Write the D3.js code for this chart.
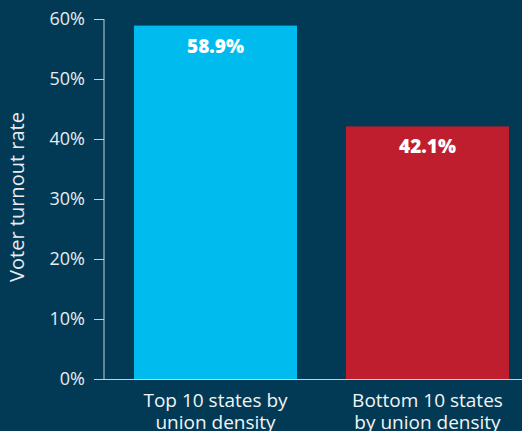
<!DOCTYPE html>
<html>
<head>
<meta charset="utf-8">
<script src="https://cdn.jsdelivr.net/npm/d3@7"></script>
<style>
  html, body { margin: 0; padding: 0; background: #023a55; }
  svg { display: block; font-family: "Open Sans", "Noto Sans", sans-serif; }
</style>
</head>
<body>
<div class="mainviz"></div>
<script>
var categories = [["Top 10 states by", "union density"], ["Bottom 10 states", "by union density"]];
var values = [58.9, 42.1];
var labels = ["58.9%", "42.1%"];
var barColors = ["#00bbee", "#be1e2e"];
var yTicks = [0, 10, 20, 30, 40, 50, 60];

var width = 522, height = 431;
var margin = { top: 19, left: 104, bottom: 52 };
var plotH = height - margin.top - margin.bottom;

var svg = d3.select(".mainviz").append("svg")
	.attr("width", width)
	.attr("height", height);

svg.append("rect").attr("width", width).attr("height", height).attr("fill", "#023a55");

var chartGroup = svg.append("g")
	.attr("transform", "translate(" + margin.left + "," + margin.top + ")");

var y = d3.scaleLinear().domain([0, 60]).range([plotH, 0]);

var x = d3.scaleBand()
	.domain([0, 1])
	.range([0, 435])
	.paddingInner(0.231)
	.paddingOuter(0.1415);

chartGroup.selectAll("rect.bar")
	.data(values)
	.enter().append("rect")
	.attr("class", "bar")
	.attr("x", function(d, i){ return x(i); })
	.attr("y", function(d){ return y(d); })
	.attr("width", x.bandwidth())
	.attr("height", function(d){ return plotH - y(d); })
	.attr("fill", function(d, i){ return barColors[i]; });

chartGroup.selectAll("text.val")
	.data(values)
	.enter().append("text")
	.attr("class", "val")
	.attr("x", function(d, i){ return x(i) + x.bandwidth() / 2; })
	.attr("y", function(d){ return y(d) + 27; })
	.attr("text-anchor", "middle")
	.attr("fill", "#fff")
	.attr("font-weight", "800")
	.attr("font-size", "19px")
	.text(function(d, i){ return labels[i]; });

var yAxis = d3.axisLeft(y)
	.tickValues(yTicks)
	.tickFormat(function(d){ return d + "%"; })
	.tickSize(10)
	.tickPadding(9);

var yg = chartGroup.append("g").call(yAxis);
yg.select(".domain").attr("stroke", "#c8cfd4").attr("d", "M0," + y(60) + "V" + plotH);
yg.selectAll(".tick line").attr("stroke", "#c8cfd4");
yg.selectAll(".tick text").attr("fill", "#e8ecef").attr("font-size", "18px")
	.attr("font-family", "\"Open Sans\", \"Noto Sans\", sans-serif");

// baseline across the full width
chartGroup.append("line")
	.attr("x1", 0).attr("x2", width - margin.left)
	.attr("y1", plotH + 0.5).attr("y2", plotH + 0.5)
	.attr("stroke", "#c8cfd4");

// category labels
chartGroup.selectAll("text.cat")
	.data(categories)
	.enter().append("text")
	.attr("class", "cat")
	.attr("x", function(d, i){ return x(i) + x.bandwidth() / 2; })
	.attr("y", plotH + 28)
	.attr("text-anchor", "middle")
	.attr("fill", "#f2f4f5")
	.attr("font-size", "19px")
	.each(function(d){
		var t = d3.select(this);
		d.forEach(function(line, j){
			t.append("tspan")
				.attr("x", t.attr("x"))
				.attr("dy", j === 0 ? 0 : 22)
				.text(line);
		});
	});

svg.append("text")
	.attr("transform", "translate(24," + (margin.top + plotH / 2 - 2) + ") rotate(-90)")
	.attr("text-anchor", "middle")
	.attr("fill", "#e8ecef")
	.attr("font-size", "20px")
	.text("Voter turnout rate");
</script>
</body>
</html>
